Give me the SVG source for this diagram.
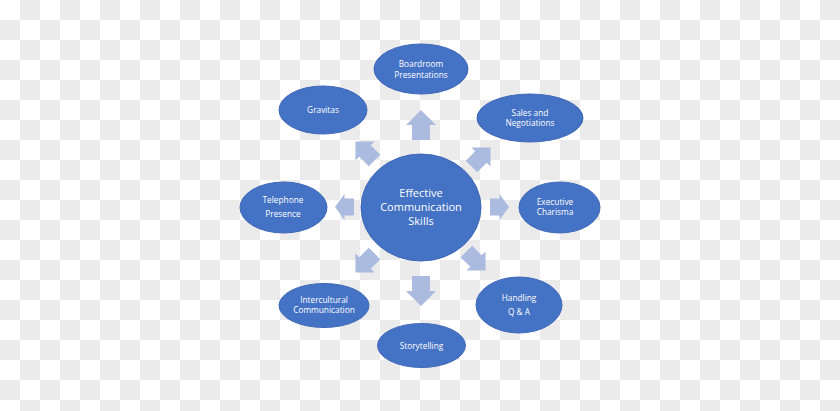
<svg xmlns="http://www.w3.org/2000/svg" width="840" height="411" viewBox="0 0 840 411">
<defs>
<pattern id="checker" x="0" y="0" width="40" height="40" patternUnits="userSpaceOnUse">
<rect x="0" y="0" width="40" height="40" fill="#ffffff"/>
<rect x="20" y="0" width="20" height="20" fill="#ebebeb"/>
<rect x="0" y="20" width="20" height="20" fill="#ebebeb"/>
</pattern>
<path id="arrowV" d="M0,-15 L15,0 L9,0 L9,15 L-9,15 L-9,0 L-15,0 Z"/>
<path id="arrowH" d="M9.5,0 L0,-13 L0,-8.5 L-9.5,-8.5 L-9.5,8.5 L0,8.5 L0,13 Z"/>
</defs>
<style>
.node ellipse { fill: #4472c4; stroke: #4068b8; stroke-width: 1; }
.node text { fill: #ffffff; font-family: "Open Sans", "Liberation Sans", sans-serif; font-size: 8.3px; text-anchor: middle; }
#center text { font-size: 11px; }
.arrow { fill: #abbbdf; }
</style>
<rect x="0" y="0" width="840" height="411" fill="url(#checker)"/>

<g id="connectors">
<use href="#arrowV" class="arrow" transform="translate(421,125)"/>
<use href="#arrowV" class="arrow" transform="translate(421,291) rotate(180)"/>
<use href="#arrowH" class="arrow" transform="translate(499.5,207)"/>
<use href="#arrowH" class="arrow" transform="translate(344.5,207) scale(-1,1)"/>
<use href="#arrowV" class="arrow" transform="translate(365,151) rotate(-45) scale(0.9)"/>
<use href="#arrowV" class="arrow" transform="translate(481,157) rotate(45) scale(0.9)"/>
<use href="#arrowV" class="arrow" transform="translate(365,263) rotate(-135) scale(0.9)"/>
<use href="#arrowV" class="arrow" transform="translate(476,261) rotate(135) scale(0.9)"/>
</g>

<g id="center" class="node">
<ellipse cx="421" cy="207.5" rx="60" ry="53.5"/>
<text x="421" y="197">Effective</text>
<text x="421" y="211">Communication</text>
<text x="421" y="225">Skills</text>
</g>

<g id="boardroom" class="node">
<ellipse cx="421" cy="69" rx="47" ry="25"/>
<text x="421" y="67">Boardroom</text>
<text x="421" y="77.5">Presentations</text>
</g>

<g id="gravitas" class="node">
<ellipse cx="323" cy="110" rx="44" ry="24"/>
<text x="323" y="113">Gravitas</text>
</g>

<g id="sales" class="node">
<ellipse cx="530" cy="118" rx="53" ry="24"/>
<text x="530" y="115.5">Sales and</text>
<text x="530" y="126">Negotiations</text>
</g>

<g id="telephone" class="node">
<ellipse cx="283.5" cy="207.5" rx="43.5" ry="25.5"/>
<text x="283" y="203">Telephone</text>
<text x="283" y="217">Presence</text>
</g>

<g id="executive" class="node">
<ellipse cx="559.5" cy="207.5" rx="40.5" ry="25.5"/>
<text x="555" y="204.5">Executive</text>
<text x="555" y="214.5">Charisma</text>
</g>

<g id="intercultural" class="node">
<ellipse cx="324" cy="305.5" rx="45" ry="22"/>
<text x="324" y="302.5">Intercultural</text>
<text x="324" y="313">Communication</text>
</g>

<g id="storytelling" class="node">
<ellipse cx="421.5" cy="345.5" rx="44" ry="22"/>
<text x="421.5" y="348.5">Storytelling</text>
</g>

<g id="handling" class="node">
<ellipse cx="519" cy="305" rx="43" ry="28"/>
<text x="519" y="300.5">Handling</text>
<text x="519" y="314.5">Q &amp; A</text>
</g>
</svg>
